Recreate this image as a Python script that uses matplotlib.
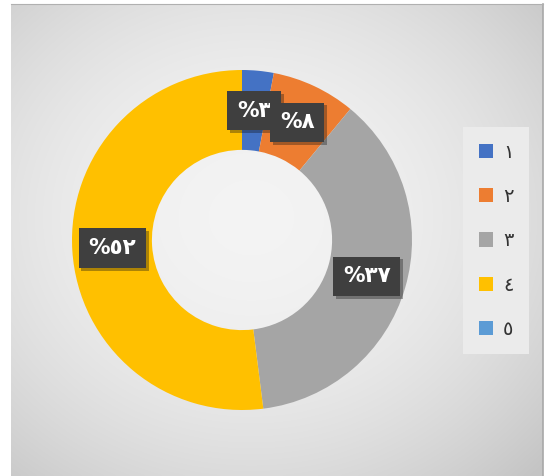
import numpy as np
import matplotlib
matplotlib.use("Agg")
from matplotlib import pyplot as plt
from matplotlib.patches import Patch
import matplotlib.patheffects as pe

# data
categories = ['١', '٢', '٣', '٤', '٥']
values = [3, 8, 37, 52, 0]
pct_labels = ['٣', '٨', '٣٧', '٥٢', '']
colors = ['#4472C4', '#ED7D31', '#A5A5A5', '#FFC000', '#5B9BD5']

plt.rcParams['font.family'] = ['DejaVu Sans']

W, H = 547, 476
fig = plt.figure(figsize=(W / 100, H / 100), dpi=100)
fig.patch.set_facecolor('white')

# gradient background panel
bg = fig.add_axes([11 / W, 0, (543 - 11) / W, (H - 4) / H])
ny, nx = 200, 240
yy, xx = np.mgrid[0:ny, 0:nx]
d2 = ((xx - nx * 0.45) / (nx / 2)) ** 2 + ((yy - ny * 0.45) / (ny / 2)) ** 2
g = np.clip(0.955 - 0.08 * d2, 0.77, 1)
bg.imshow(np.dstack([g, g, g]), aspect='auto', interpolation='bilinear')
bg.set_xticks([])
bg.set_yticks([])
for s in bg.spines.values():
    s.set_visible(False)
bg.spines['top'].set_visible(True)
bg.spines['top'].set_color('#b0b0b0')
bg.spines['right'].set_visible(True)
bg.spines['right'].set_color('#a8a8a8')
bg.spines['right'].set_linewidth(1.2)

# donut
cx, cy, r = 242, 240, 170
ax = fig.add_axes([(cx - r) / W, (H - cy - r) / H, 2 * r / W, 2 * r / H])
ax.set_facecolor('none')
wedges, _ = ax.pie(values, colors=colors, startangle=90, counterclock=False,
                   radius=1, wedgeprops=dict(width=0.47, edgecolor='none'))
ax.set_xlim(-1, 1)
ax.set_ylim(-1, 1)
ax.set_aspect('equal')
ax.axis('off')

for i, (w, lab) in enumerate(zip(wedges, pct_labels)):
    if not lab:
        continue
    ang = np.deg2rad((w.theta1 + w.theta2) / 2)
    rr = 0.765
    txt = '%' + lab
    t = ax.text(rr * np.cos(ang), rr * np.sin(ang), txt, ha='center', va='center',
                color='white', fontsize=15.5, fontweight='bold', zorder=5 + i,
                bbox=dict(boxstyle='square,pad=0.45', facecolor='#3f3f3f', edgecolor='none'))
    t.get_bbox_patch().set_path_effects([pe.SimplePatchShadow(offset=(2, -2), alpha=0.35),
                                         pe.Normal()])

# legend
handles = [Patch(facecolor=c, edgecolor='none') for c in colors]
leg = fig.legend(handles, categories, loc='center', bbox_to_anchor=(0.907, 0.494),
                 fontsize=14, frameon=True, fancybox=False, labelspacing=1.3,
                 handlelength=0.75, handleheight=0.75, handletextpad=0.5,
                 borderpad=0.8, borderaxespad=0)
leg.get_frame().set_facecolor('#ebebeb')
leg.get_frame().set_edgecolor('none')
leg.get_frame().set_alpha(1)
for t in leg.get_texts():
    t.set_color('#333333')

fig.savefig('out.png', dpi=100)
